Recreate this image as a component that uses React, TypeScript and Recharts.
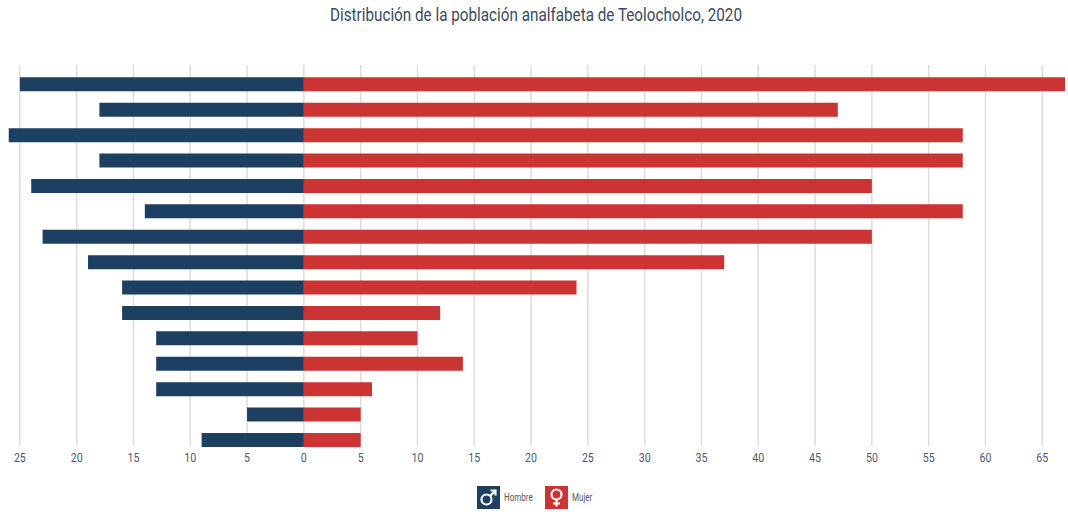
import { BarChart, Bar, XAxis, YAxis, CartesianGrid } from "recharts";

const rows = [0, 1, 2, 3, 4, 5, 6, 7, 8, 9, 10, 11, 12, 13, 14];
const hombre = [25, 18, 26, 18, 24, 14, 23, 19, 16, 16, 13, 13, 13, 5, 9];
const mujer = [67, 47, 58, 58, 50, 58, 50, 37, 24, 12, 10, 14, 6, 5, 5];
const xTicks = [-25, -20, -15, -10, -5, 0, 5, 10, 15, 20, 25, 30, 35, 40, 45, 50, 55, 60, 65];

const BLUE = "#1d3f62";
const RED = "#cc3333";
const FONT = "Roboto, sans-serif";

const chartData = rows.map((row, i) => ({
  row,
  Hombre: -hombre[i],
  Mujer: mujer[i],
}));

// the original font is a condensed one, so squeeze Roboto a bit
function XTick({ x, y, payload }: any) {
  return (
    <g transform={`translate(${x},${y}) scale(0.85,1)`}>
      <text
        x={0}
        y={8}
        textAnchor="middle"
        style={{ fontFamily: FONT, fontSize: 12.5, fill: "#4f5a6e" }}
      >
        {Math.abs(payload.value)}
      </text>
    </g>
  );
}

function GenderLegend() {
  const label = {
    fontFamily: FONT,
    fontSize: 10,
    color: "#555",
    transformOrigin: "left center",
    transform: "scaleX(0.8)",
  };
  const box = { display: "block", width: 23, height: 23 };
  return (
    <div style={{ position: "absolute", left: 477, top: 486, display: "flex", alignItems: "center" }}>
      <svg style={box} viewBox="0 0 23 23">
        <rect width="23" height="23" fill={BLUE} />
        <circle cx="9.5" cy="13.5" r="5" fill="none" stroke="#fff" strokeWidth="2.2" />
        <path d="M13 10 L18.5 4.5 M13.5 4.5 H18.5 V9.5" fill="none" stroke="#fff" strokeWidth="2.2" />
      </svg>
      <span style={{ ...label, marginLeft: 4, width: 41 }}>Hombre</span>
      <svg style={box} viewBox="0 0 23 23">
        <rect width="23" height="23" fill={RED} />
        <circle cx="11.5" cy="8.5" r="5" fill="none" stroke="#fff" strokeWidth="2.2" />
        <path d="M11.5 13.5 V20.5 M8 17.5 H15" fill="none" stroke="#fff" strokeWidth="2.2" />
      </svg>
      <span style={{ ...label, marginLeft: 4 }}>Mujer</span>
    </div>
  );
}

export default function App() {
  return (
    <div style={{ position: "absolute", left: 0, top: 0, width: 1068, height: 512, background: "#fff" }}>
      <BarChart
        width={1068}
        height={512}
        data={chartData}
        layout="vertical"
        stackOffset="sign"
        margin={{ top: 65, right: 3, bottom: 36, left: 8.5 }}
      >
        <text
          x={536}
          y={21}
          textAnchor="middle"
          textLength={412}
          lengthAdjust="spacingAndGlyphs"
          style={{ fontFamily: FONT, fontSize: 18.5, fill: "#3b4a5c" }}
        >
          Distribución de la población analfabeta de Teolocholco, 2020
        </text>
        <CartesianGrid horizontal={false} syncWithTicks stroke="#dcdcdc" strokeWidth={1.5} />
        <XAxis
          type="number"
          domain={[-26, 67]}
          ticks={xTicks}
          allowDataOverflow
          interval={0}
          axisLine={false}
          tickLine={false}
          height={30}
          tick={<XTick />}
        />
        <YAxis type="number" dataKey="row" domain={[-0.75, 14.25]} hide />
        <Bar dataKey="Hombre" stackId="a" fill={BLUE} barSize={14} isAnimationActive={false} />
        <Bar dataKey="Mujer" stackId="a" fill={RED} barSize={14} isAnimationActive={false} />
      </BarChart>
      <GenderLegend />
    </div>
  );
}
